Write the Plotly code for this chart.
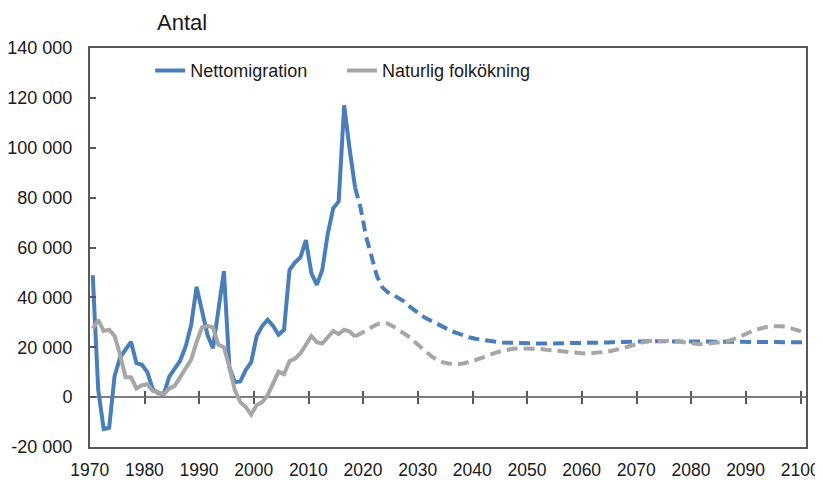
import plotly.graph_objects as go

# historik 1970-2018
hist_years = list(range(1970, 2019))
netto_hist = [48900, 3000, -12800, -12300, 8500, 15800, 19000, 22200, 13600, 13000,
              10000, 3100, 1600, 1200, 8200, 11100, 14600, 20300, 28800, 44200,
              34800, 24900, 19600, 35000, 50500, 12000, 6000, 6300, 10900, 14000,
              24500, 28500, 31000, 28500, 25000, 27000, 51000, 54000, 56000, 63000,
              49700, 45000, 51000, 65500, 75700, 78500, 117000, 99500, 84000]
natur_hist = [27500, 31000, 26500, 27000, 24500, 17000, 8000, 8000, 3500, 4800,
              5200, 2500, 2000, 1100, 3500, 4500, 8000, 11500, 15000, 22000,
              28000, 28500, 28000, 21000, 20000, 12000, 2800, -2000, -4000, -7000,
              -3200, -2000, 800, 5500, 10200, 9200, 14400, 15500, 17500, 21000,
              24500, 22000, 21500, 24000, 26500, 25300, 27000, 26300, 24300]

# prognos 2018-2100
prog_years = list(range(2018, 2101))
netto_prog = [84000, 76000, 64500, 56000, 48500, 44000, 42000, 41000, 39800, 38300,
              36300, 34500, 33000, 31600, 30400, 29300, 28200, 27200, 26200, 25300,
              24500, 23900, 23400, 23000, 22600, 22300, 22100, 21900, 21800, 21700,
              21600, 21600, 21500, 21500, 21500, 21500, 21500, 21500, 21500, 21500,
              21500, 21500, 21500, 21600, 21700, 21800, 21900, 22000, 22100, 22200,
              22300, 22300, 22400, 22400, 22400, 22400, 22400, 22400, 22400, 22400,
              22300, 22300, 22300, 22300, 22300, 22300, 22200, 22200, 22200, 22200,
              22200, 22100, 22100, 22100, 22100, 22100, 22000, 22000, 22000, 22000,
              22000, 22000, 22000]
natur_prog = [24300, 25500, 27000, 28200, 29200, 29800, 29500, 28300, 27000, 25500,
              24000, 22000, 20000, 18000, 16300, 15000, 14000, 13500, 13200, 13300,
              13600, 14000, 14800, 15600, 16500, 17300, 18000, 18600, 19100, 19400,
              19600, 19600, 19600, 19500, 19300, 19000, 18800, 18600, 18300, 18000,
              17700, 17500, 17500, 17600, 17700, 17900, 18200, 18600, 19000, 19600,
              20300, 21000, 21700, 22200, 22500, 22600, 22700, 22700, 22600, 22300,
              22000, 21600, 21300, 21200, 21300, 21500, 21700, 22000, 22300, 23000,
              23800, 24800, 25800, 26800, 27500, 28000, 28400, 28500, 28400, 28100,
              27600, 26800, 26000]

y_ticks = list(range(-20000, 140001, 20000))
y_labels = [f"{v:,}".replace(",", " ") for v in y_ticks]
x_labels = list(range(1970, 2101, 10))

BLUE = "#4A7EBB"
GREY = "#A6A6A6"
FONT = "Liberation Sans, Arial, sans-serif"

fig = go.Figure()
fig.add_trace(go.Scatter(x=hist_years, y=netto_hist, mode="lines", name="Nettomigration",
                         line=dict(color=BLUE, width=4), legend="legend"))
fig.add_trace(go.Scatter(x=hist_years, y=natur_hist, mode="lines", name="Naturlig folkökning",
                         line=dict(color=GREY, width=4), legend="legend2"))
fig.add_trace(go.Scatter(x=prog_years, y=netto_prog, mode="lines", showlegend=False,
                         line=dict(color=BLUE, width=4, dash="11px,6px")))
fig.add_trace(go.Scatter(x=prog_years, y=natur_prog, mode="lines", showlegend=False,
                         line=dict(color=GREY, width=4, dash="11px,6px")))
# tomma serier som bär tickmarkeringarna vid nollinjen
fig.add_trace(go.Scatter(x=[], y=[], xaxis="x2", showlegend=False, hoverinfo="skip"))
fig.add_trace(go.Scatter(x=[], y=[], xaxis="x3", showlegend=False, hoverinfo="skip"))

xr = [1969.5, 2100.5]
zero_pos = 20000 / 160000
tick_pos = [v - 0.5 for v in x_labels[1:]]

leg = dict(orientation="h", y=0.943, xanchor="left", yanchor="middle",
           bgcolor="rgba(0,0,0,0)", font=dict(family=FONT, size=18))

fig.update_layout(
    width=823, height=483,
    margin=dict(l=82, r=25, t=40, b=44),
    paper_bgcolor="white", plot_bgcolor="white",
    font=dict(family=FONT, size=18, color="#1a1a1a"),
    showlegend=True,
    legend=dict(leg, x=0.084),
    legend2=dict(leg, x=0.352),
    xaxis=dict(range=xr, tickvals=x_labels, ticktext=[str(v) for v in x_labels],
               ticks="", showline=True, mirror=True, linecolor="#595959", linewidth=2,
               showgrid=False, zeroline=False, ticklabelstandoff=6, ticklabelshift=-3,
               tickfont=dict(size=17.5),
               ticklabeloverflow="allow", automargin=False),
    xaxis2=dict(range=xr, overlaying="x", anchor="free", position=zero_pos,
                tickvals=tick_pos, ticks="outside", ticklen=6, tickwidth=1.5,
                tickcolor="#595959", showticklabels=False, showline=False,
                showgrid=False, zeroline=False),
    xaxis3=dict(range=xr, overlaying="x", anchor="free", position=zero_pos,
                tickvals=tick_pos, ticks="inside", ticklen=6, tickwidth=1.5,
                tickcolor="#595959", showticklabels=False, showline=False,
                showgrid=False, zeroline=False),
    yaxis=dict(range=[-20000, 140000], tickvals=y_ticks, ticktext=y_labels,
               ticks="inside", ticklen=6, tickwidth=1.5, tickcolor="#595959",
               showline=True, mirror=True, linecolor="#595959", linewidth=2,
               showgrid=False, zeroline=True, zerolinecolor="#7f7f7f", zerolinewidth=1.5,
               ticklabelstandoff=12, automargin=False),
    annotations=[dict(text="Antal", xref="paper", yref="paper", x=0.1285, y=1.065,
                      xanchor="center", yanchor="middle", showarrow=False,
                      font=dict(family=FONT, size=22))],
)

fig.write_html("out.html")
